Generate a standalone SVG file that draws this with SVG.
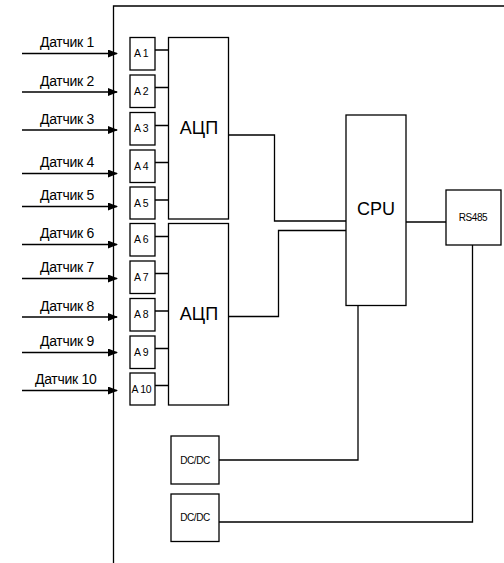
<svg xmlns="http://www.w3.org/2000/svg" width="504" height="563" viewBox="0 0 504 563">
<defs>
<marker id="arr" markerWidth="10" markerHeight="8" refX="9" refY="4" orient="auto" markerUnits="userSpaceOnUse">
<path d="M0,0 L10,4 L0,8 z" fill="#000"/>
</marker>
</defs>
<style>
.ln{stroke:#000;stroke-width:1.3;fill:none}
.bx{stroke:#000;stroke-width:1.3;fill:#fff}
.lbl{font-family:"Liberation Sans",Arial,sans-serif;font-size:14px;fill:#000;letter-spacing:-0.3px}
.sm{font-family:"Liberation Sans",Arial,sans-serif;font-size:10.5px;fill:#000;letter-spacing:-0.3px}
.big{font-family:"Liberation Sans",Arial,sans-serif;font-size:18px;fill:#000;text-anchor:middle}
.tiny{font-family:"Liberation Sans",Arial,sans-serif;font-size:10px;fill:#000;text-anchor:middle;letter-spacing:-0.4px}
</style>
<rect width="504" height="563" fill="#fff"/>
<g id="frame">
<path class="ln" d="M113.5,563 V6 H504"/>
</g>
<g id="connectors">
<path class="ln" d="M22,53.5 H117" marker-end="url(#arr)"/>
<path class="ln" d="M22,92 H117" marker-end="url(#arr)"/>
<path class="ln" d="M22,130 H117" marker-end="url(#arr)"/>
<path class="ln" d="M22,173.5 H117" marker-end="url(#arr)"/>
<path class="ln" d="M22,206.5 H117" marker-end="url(#arr)"/>
<path class="ln" d="M22,244.5 H117" marker-end="url(#arr)"/>
<path class="ln" d="M22,278.5 H117" marker-end="url(#arr)"/>
<path class="ln" d="M22,317 H117" marker-end="url(#arr)"/>
<path class="ln" d="M22,352.5 H117" marker-end="url(#arr)"/>
<path class="ln" d="M22,390.5 H117" marker-end="url(#arr)"/>
<path class="ln" d="M155,50 H168.5 M155,87.5 H168.5 M155,125.5 H168.5 M155,162.5 H168.5 M155,200 H168.5"/>
<path class="ln" d="M155,236.5 H168.5 M155,273.5 H168.5 M155,311 H168.5 M155,348.5 H168.5 M155,385.5 H168.5"/>
<path class="ln" d="M228.5,135 H274.5 V221 H346"/>
<path class="ln" d="M228.5,316.5 H278.5 V230.5 H346"/>
<path class="ln" d="M406,222 H446"/>
<path class="ln" d="M358,305.5 V460 H219"/>
<path class="ln" d="M472.5,245 V522 H219"/>
</g>
<g id="labels">
<text class="lbl" x="40" y="47">Датчик 1</text>
<text class="lbl" x="40" y="85.5">Датчик 2</text>
<text class="lbl" x="40" y="124">Датчик 3</text>
<text class="lbl" x="40" y="167">Датчик 4</text>
<text class="lbl" x="40" y="200">Датчик 5</text>
<text class="lbl" x="40" y="238">Датчик 6</text>
<text class="lbl" x="40" y="272">Датчик 7</text>
<text class="lbl" x="40" y="310.5">Датчик 8</text>
<text class="lbl" x="40" y="346">Датчик 9</text>
<text class="lbl" x="35" y="384">Датчик 10</text>
</g>
<g id="A1"><rect class="bx" x="130" y="37.5" width="25" height="32.5"/><text class="sm" x="134" y="57">A 1</text></g>
<g id="A2"><rect class="bx" x="130" y="75" width="25" height="32.5"/><text class="sm" x="134" y="94.5">A 2</text></g>
<g id="A3"><rect class="bx" x="130" y="112.5" width="25" height="32.5"/><text class="sm" x="134" y="132">A 3</text></g>
<g id="A4"><rect class="bx" x="130" y="150" width="25" height="32.5"/><text class="sm" x="134" y="169.5">A 4</text></g>
<g id="A5"><rect class="bx" x="130" y="187" width="25" height="32"/><text class="sm" x="134" y="206.5">A 5</text></g>
<g id="A6"><rect class="bx" x="130" y="223.5" width="25" height="32.5"/><text class="sm" x="134" y="243">A 6</text></g>
<g id="A7"><rect class="bx" x="130" y="261" width="25" height="32.5"/><text class="sm" x="134" y="280.5">A 7</text></g>
<g id="A8"><rect class="bx" x="130" y="298.5" width="25" height="32.5"/><text class="sm" x="134" y="318">A 8</text></g>
<g id="A9"><rect class="bx" x="130" y="336" width="25" height="32.5"/><text class="sm" x="134" y="355.5">A 9</text></g>
<g id="A10"><rect class="bx" x="130" y="373" width="25" height="32"/><text class="sm" x="131.5" y="392.5">A 10</text></g>
<g id="ADC1"><rect class="bx" x="168.5" y="37.5" width="60" height="181.5"/><text class="big" x="199" y="133.5">АЦП</text></g>
<g id="ADC2"><rect class="bx" x="168.5" y="223.5" width="60" height="181.5"/><text class="big" x="199" y="320">АЦП</text></g>
<g id="CPU"><rect class="bx" x="346" y="115" width="60" height="190.5"/><text class="big" x="376" y="215">CPU</text></g>
<g id="RS485"><rect class="bx" x="446" y="190" width="55" height="55"/><text class="tiny" x="473" y="221">RS485</text></g>
<g id="DCDC1"><rect class="bx" x="171" y="436" width="48" height="48"/><text class="tiny" x="195" y="463.5">DC/DC</text></g>
<g id="DCDC2"><rect class="bx" x="171" y="494" width="48" height="47.5"/><text class="tiny" x="195" y="520.5">DC/DC</text></g>
</svg>
